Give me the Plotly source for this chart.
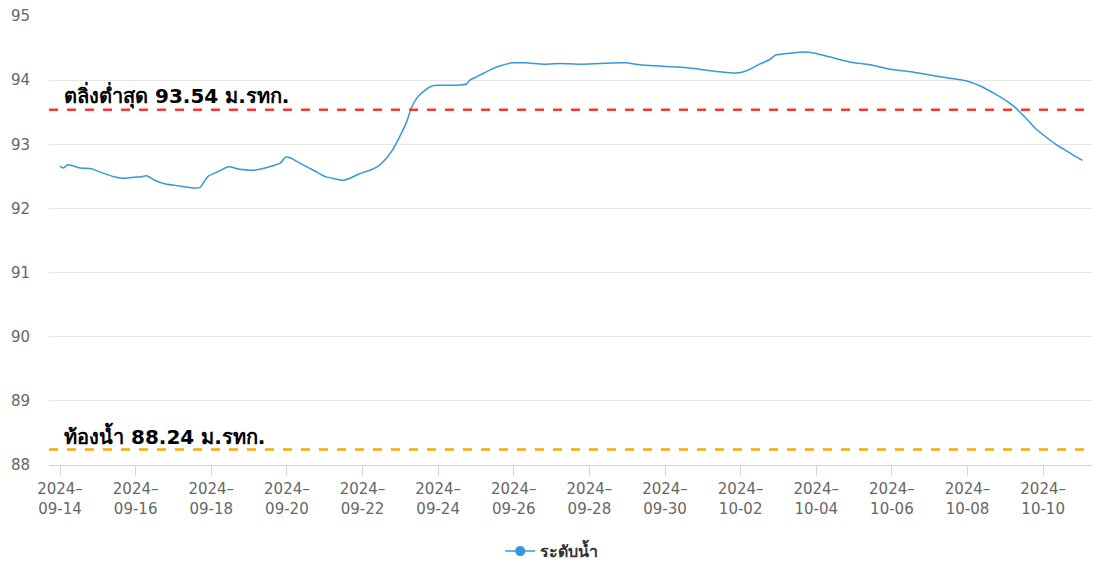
import plotly.graph_objects as go

dates = [
    "2024-09-14 00:00", "2024-09-14 02:00", "2024-09-14 05:00", "2024-09-14 13:00", "2024-09-14 20:00",
    "2024-09-15 01:00", "2024-09-15 11:00", "2024-09-15 17:00", "2024-09-16 00:00", "2024-09-16 03:00",
    "2024-09-16 07:00", "2024-09-16 12:00", "2024-09-16 19:00", "2024-09-17 04:00", "2024-09-17 14:00",
    "2024-09-17 17:00", "2024-09-17 19:00", "2024-09-17 22:00", "2024-09-18 04:00", "2024-09-18 11:00",
    "2024-09-18 18:00", "2024-09-19 04:00", "2024-09-19 13:00", "2024-09-19 20:00", "2024-09-19 23:00",
    "2024-09-20 02:00", "2024-09-20 08:00", "2024-09-20 18:00", "2024-09-21 00:00", "2024-09-21 07:00",
    "2024-09-21 12:00", "2024-09-21 16:00", "2024-09-21 22:00", "2024-09-22 05:00", "2024-09-22 10:00",
    "2024-09-22 14:00", "2024-09-22 19:00", "2024-09-23 00:00", "2024-09-23 04:00", "2024-09-23 07:00",
    "2024-09-23 11:00", "2024-09-23 16:00", "2024-09-23 20:00", "2024-09-24 01:00", "2024-09-24 11:00",
    "2024-09-24 18:00", "2024-09-24 20:00", "2024-09-25 01:00", "2024-09-25 09:00", "2024-09-25 15:00",
    "2024-09-25 23:00", "2024-09-26 07:00", "2024-09-26 20:00", "2024-09-27 05:00", "2024-09-27 18:00",
    "2024-09-28 07:00", "2024-09-28 23:00", "2024-09-29 08:00", "2024-09-29 21:00", "2024-09-30 10:00",
    "2024-09-30 22:00", "2024-10-01 11:00", "2024-10-01 21:00", "2024-10-02 03:00", "2024-10-02 12:00",
    "2024-10-02 19:00", "2024-10-02 22:00", "2024-10-03 07:00", "2024-10-03 17:00", "2024-10-03 23:00",
    "2024-10-04 09:00", "2024-10-04 22:00", "2024-10-05 10:00", "2024-10-05 23:00", "2024-10-06 12:00",
    "2024-10-07 00:00", "2024-10-07 13:00", "2024-10-07 23:00", "2024-10-08 08:00", "2024-10-08 18:00",
    "2024-10-09 00:00", "2024-10-09 06:00", "2024-10-09 13:00", "2024-10-09 19:00", "2024-10-10 01:00",
    "2024-10-10 08:00", "2024-10-10 14:00", "2024-10-10 20:00", "2024-10-11 01:00",
]

water_level = [
    92.66, 92.63, 92.68, 92.63, 92.62,
    92.57, 92.49, 92.47, 92.49, 92.49,
    92.51, 92.44, 92.38, 92.35, 92.32,
    92.33, 92.40, 92.50, 92.57, 92.65,
    92.61, 92.60, 92.65, 92.71, 92.80,
    92.79, 92.71, 92.58, 92.50, 92.46,
    92.44, 92.47, 92.54, 92.60, 92.66,
    92.75, 92.91, 93.14, 93.35, 93.57,
    93.74, 93.85, 93.91, 93.92, 93.92,
    93.94, 94.00, 94.06, 94.16, 94.22,
    94.27, 94.27, 94.25, 94.26, 94.25,
    94.26, 94.27, 94.24, 94.22, 94.20,
    94.17, 94.13, 94.11, 94.14, 94.25,
    94.33, 94.39, 94.42, 94.44, 94.42,
    94.36, 94.28, 94.24, 94.17, 94.13,
    94.08, 94.03, 93.99, 93.91, 93.78,
    93.69, 93.58, 93.41, 93.25, 93.13,
    93.00, 92.91, 92.82, 92.75,
]

series_name = "ระดับน้ำ"
bank_level = 93.54
bank_label = "ตลิ่งต่ำสุด 93.54 ม.รทก."
bed_level = 88.24
bed_label = "ท้องน้ำ 88.24 ม.รทก."

x_range = ["2024-09-13 17:00", "2024-10-11 07:00"]
y_range = [88, 95.0005]
y_ticks = [88, 89, 90, 91, 92, 93, 94, 95]
tick_dates = ["2024-09-%02d" % d for d in range(14, 31, 2)] + ["2024-10-%02d" % d for d in range(2, 11, 2)]
tick_text = [d[:4] + "–<br>" + d[5:] for d in tick_dates]

FONT = "Tahoma, Verdana, 'DejaVu Sans', 'Noto Sans', sans-serif"

fig = go.Figure()
fig.add_trace(go.Scatter(
    x=dates, y=water_level, mode="lines", name=series_name,
    line=dict(color="#3498db", width=1.5, shape="spline", smoothing=0.6),
    showlegend=False,
))
# legend entry showing line + marker
fig.add_trace(go.Scatter(
    x=[None], y=[None], mode="lines+markers", name="<b>" + series_name + "</b>",
    line=dict(color="#3498db", width=1.5), marker=dict(size=10, color="#3498db"),
    showlegend=True,
))

fig.add_hline(y=bank_level, line=dict(color="#ff3333", width=2.5, dash="dash"))
fig.add_hline(y=bed_level, line=dict(color="#ffa500", width=2.5, dash="dash"))

fig.add_annotation(x=0.0125, xref="paper", y=bank_level, yref="y", text="<b>" + bank_label + "</b>",
                   showarrow=False, xanchor="left", yanchor="bottom", yshift=-1,
                   font=dict(size=20, color="#000000", family=FONT))
fig.add_annotation(x=0.0125, xref="paper", y=bed_level, yref="y", text="<b>" + bed_label + "</b>",
                   showarrow=False, xanchor="left", yanchor="bottom", yshift=-1,
                   font=dict(size=20, color="#000000", family=FONT))

fig.update_layout(
    width=1105, height=566,
    margin=dict(l=49, r=13, t=16, b=101, autoexpand=False),
    paper_bgcolor="white", plot_bgcolor="white",
    font=dict(family=FONT, color="#666666", size=15),
    showlegend=True,
    legend=dict(orientation="h", x=0.482, xanchor="center", y=-0.192, yanchor="middle",
                font=dict(size=16, color="#333333", family=FONT)),
    xaxis=dict(
        type="date", range=x_range, tickvals=tick_dates, ticktext=tick_text,
        showgrid=False, showline=True, linecolor="#ccd6eb", linewidth=1,
        ticks="outside", ticklen=10, tickcolor="#ccd6eb", automargin=False,
        tickfont=dict(size=15, color="#666666"), zeroline=False,
    ),
    yaxis=dict(
        range=y_range, tickvals=y_ticks, showgrid=True,
        gridcolor="#e6e6e6", gridwidth=1,
        zeroline=False, showline=False, ticks="", automargin=False, ticklabelstandoff=18,
        tickfont=dict(size=15, color="#666666"),
    ),
)

fig.write_html("out.html", config={"displayModeBar": False},
               post_script="document.body.style.margin='0';")
